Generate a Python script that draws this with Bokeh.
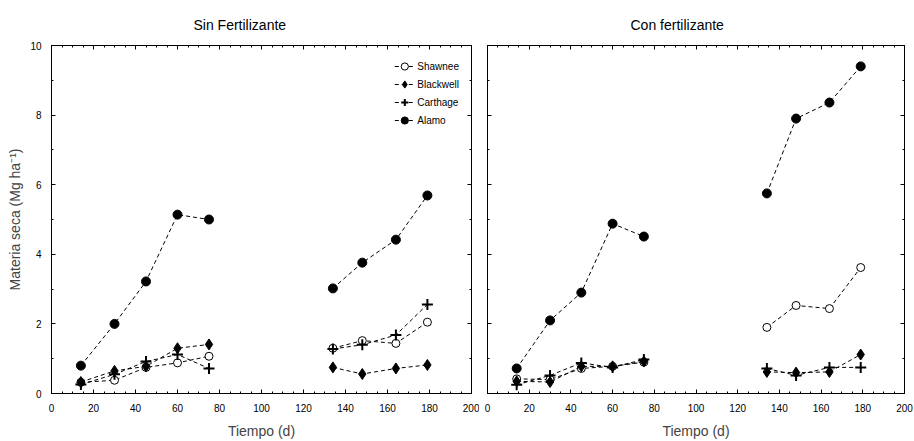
import numpy as np
from bokeh.plotting import figure
from bokeh.layouts import row
from bokeh.models import (Range1d, LinearAxis, SingleIntervalTicker, Legend, LegendItem,
                          CustomJSTickFormatter)
from bokeh.embed import file_html
from bokeh.resources import INLINE

# ---------------- data ----------------
days = [14, 30, 45, 60, 75, 134, 148, 164, 179]
n_first = 5  # samples in the first period (line breaks after these)

sin_shawnee = [0.32, 0.38, 0.75, 0.88, 1.07, 1.30, 1.52, 1.44, 2.05]
sin_blackwell = [0.33, 0.65, 0.78, 1.30, 1.41, 0.75, 0.56, 0.72, 0.82]
sin_carthage = [0.26, 0.55, 0.92, 1.12, 0.72, 1.28, 1.40, 1.68, 2.56]
sin_alamo = [0.80, 2.00, 3.22, 5.14, 5.00, 3.02, 3.76, 4.42, 5.69]

con_shawnee = [0.42, 0.40, 0.72, 0.78, 0.90, 1.90, 2.53, 2.44, 3.62]
con_blackwell = [0.35, 0.33, 0.78, 0.78, 0.92, 0.62, 0.60, 0.62, 1.12]
con_carthage = [0.25, 0.52, 0.88, 0.75, 0.98, 0.72, 0.52, 0.75, 0.75]
con_alamo = [0.72, 2.10, 2.90, 4.88, 4.51, 5.75, 7.90, 8.36, 9.40]

series_names = ["Shawnee", "Blackwell", "Carthage", "Alamo"]
titles = ["Sin Fertilizante", "Con fertilizante"]
x_label = "Tiempo (d)"
y_label = "Materia seca (Mg ha\u207b\u00b9)"

FONT = "Liberation Sans"
H = 441


def broken(vals):
    v = list(vals)
    return v[:n_first] + [np.nan] + v[n_first:]


def style_axis(ax, interval, minor, labels):
    ax.ticker = SingleIntervalTicker(interval=interval, num_minor_ticks=minor)
    ax.major_tick_in = 4
    ax.major_tick_out = 0
    ax.minor_tick_in = 2
    ax.minor_tick_out = 0
    ax.axis_line_color = "black"
    ax.major_tick_line_color = "black"
    ax.minor_tick_line_color = "black"
    ax.major_label_text_font = FONT
    ax.major_label_text_color = "black"
    ax.major_label_text_font_size = "10px"
    if not labels:
        ax.formatter = CustomJSTickFormatter(code="return ''")
        ax.major_label_standoff = 0


def make_panel(width, border_left, border_right, title, title_offset,
               shawnee, blackwell, carthage, alamo, ylabels, legend):
    p = figure(width=width, height=H, x_range=Range1d(0, 200), y_range=Range1d(0, 10),
               output_backend="svg", toolbar_location=None,
               min_border_left=border_left, min_border_right=border_right,
               min_border_top=45, min_border_bottom=48, title=title)
    p.title.align = "left"
    p.title.offset = title_offset
    p.title.text_font = FONT
    p.title.text_font_size = "14px"
    p.title.text_font_style = "normal"
    p.title.text_color = "black"
    p.title.standoff = 26
    p.grid.visible = False
    p.outline_line_color = "black"
    p.background_fill_color = "white"

    xb = p.xaxis[0]
    style_axis(xb, 20, 4, True)
    xb.major_label_standoff = 10
    xb.axis_label = x_label
    xb.axis_label_text_font = FONT
    xb.axis_label_text_font_size = "14px"
    xb.axis_label_text_font_style = "normal"
    xb.axis_label_standoff = 8

    yl = p.yaxis[0]
    style_axis(yl, 2, 2, ylabels)
    if ylabels:
        yl.major_label_standoff = 10
        yl.axis_label = y_label
        yl.axis_label_text_font = FONT
        yl.axis_label_text_font_size = "14px"
        yl.axis_label_text_font_style = "normal"
        yl.axis_label_standoff = 4

    xt = LinearAxis()
    style_axis(xt, 20, 4, False)
    p.add_layout(xt, "above")
    yr = LinearAxis()
    style_axis(yr, 2, 2, False)
    p.add_layout(yr, "right")

    xs = broken(days)
    dash = "4 3"
    items = []
    specs = [
        (shawnee, dict(marker="circle", size=8, fill_color="white", line_color="black", line_width=1)),
        (blackwell, dict(marker="diamond", size=11, fill_color="black", line_color="black", line_width=1)),
        (carthage, dict(marker="cross", size=11, line_color="black", line_width=2)),
        (alamo, dict(marker="circle", size=9, fill_color="black", line_color="black", line_width=1)),
    ]
    for name, (vals, mk) in zip(series_names, specs):
        ln = p.line(xs, broken(vals), line_color="black", line_width=1, line_dash=dash)
        sc = p.scatter(days, vals, **mk)
        items.append(LegendItem(label=name, renderers=[ln, sc]))

    if legend:
        lg = Legend(items=items, location="top_right", margin=12, padding=2, spacing=0,
                    glyph_width=20, glyph_height=18, label_height=14, label_standoff=3,
                    label_text_font=FONT, label_text_font_size="10px",
                    label_text_color="black",
                    border_line_color=None, background_fill_alpha=0)
        p.add_layout(lg)
    return p


p1 = make_panel(479, 51, 8, titles[0], 142,
                sin_shawnee, sin_blackwell, sin_carthage, sin_alamo, True, True)
p2 = make_panel(435, 8, 10, titles[1], 143,
                con_shawnee, con_blackwell, con_carthage, con_alamo, False, False)

layout = row(p1, p2)
open("out.html", "w").write(file_html(layout, INLINE))
